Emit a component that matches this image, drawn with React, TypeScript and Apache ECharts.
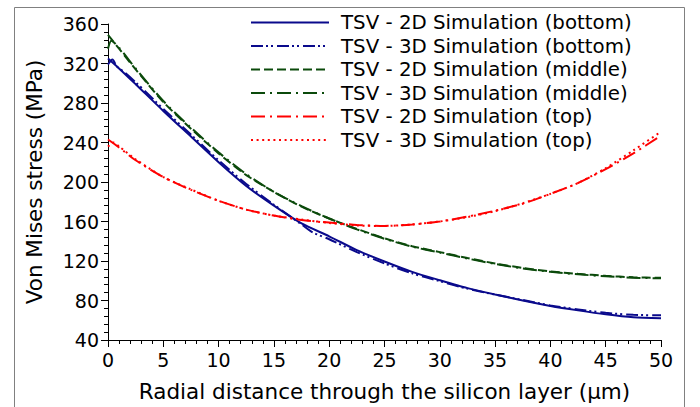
import React, { useEffect, useRef } from "react";
import * as echarts from "echarts";

const seriesNames = [
  "TSV - 2D Simulation (bottom)",
  "TSV - 3D Simulation (bottom)",
  "TSV - 2D Simulation (middle)",
  "TSV - 3D Simulation (middle)",
  "TSV - 2D Simulation (top)",
  "TSV - 3D Simulation (top)",
];

const xCommon = [0, 1, 2.5, 5, 7.5, 10, 12.5, 15, 17.5, 20, 22.5, 25, 27.5, 30, 32.5, 35, 37.5, 40, 42.5, 45, 47.5, 50];

const bottom2dY = [325, 315, 299, 272, 246, 220, 196, 176, 158, 145, 131, 119.5, 109, 100.5, 92.5, 86, 80, 74.5, 70, 66, 63, 62];

const bottom3dX = [0, 0.4, 0.8, 1.5, 2.5, 5, 7.5, 10, 12.5, 15, 17.5, 18.5, 20, 22.5, 25, 27.5, 30, 32.5, 35, 37.5, 40, 42.5, 45, 47.5, 50];
const bottom3dY = [319, 324, 317, 311, 301, 274, 248, 222, 198, 177, 157, 149, 142, 129, 117.5, 107.5, 99.5, 92, 86, 80.5, 75, 71, 67.5, 65.5, 65];

const middle2dY = [349, 335, 314, 281, 254, 229, 207, 190, 175, 163, 152.5, 143, 135, 129, 123, 117.5, 113, 109.5, 107, 105, 103.5, 103];

const middle3dX = [0, 0.3, 1, 2.5, 5, 7.5, 10, 12.5, 15, 17.5, 20, 22.5, 25, 27.5, 30, 32.5, 35, 37.5, 40, 42.5, 45, 47.5, 50];
const middle3dY = [335, 343, 336, 315, 282, 255, 230, 208, 190, 175.5, 163, 152, 142.5, 134.5, 128.5, 122.5, 117, 112.5, 109, 106.5, 104.5, 103, 102.5];

const top2dY = [243, 235, 222, 205, 192, 181, 172, 166, 161.5, 159, 156.5, 155.5, 157, 160, 165, 171, 178, 188, 199, 213, 229, 247];

const top3dX = [0, 0.5, 1, 2.5, 5, 7.5, 10, 12.5, 15, 17.5, 20, 22.5, 25, 27.5, 30, 32.5, 35, 37.5, 40, 42.5, 45, 47.5, 50];
const top3dY = [236, 240, 236, 223, 205, 192.5, 181, 172, 166, 162, 158.5, 156, 155.5, 157, 160, 164.5, 170.5, 178.5, 188, 199, 214, 232, 251];

const xTicks = { min: 0, max: 50, interval: 5 };
const yTicks = { min: 40, max: 360, interval: 40 };

const zip = (xs: number[], ys: number[]) => xs.map((x, i) => [x, ys[i]]);

const FONT = "DejaVu Sans";
const BLUE = "#0a0a8c";
const GREEN = "#0b4a0b";
const RED = "#ff0000";

export default function App() {
  const ref = useRef<HTMLDivElement>(null);
  useEffect(() => {
    if (!ref.current) return;
    const chart = echarts.init(ref.current, null, { renderer: "svg" });
    const mk = (name: string, data: number[][], color: string, type: any) => ({
      name,
      type: "line",
      data,
      showSymbol: false,
      symbol: "none",
      smooth: 0.25,
      lineStyle: { color, width: 2, type },
      itemStyle: { color },
    });
    chart.setOption({
      animation: false,
      textStyle: { fontFamily: FONT },
      graphic: [
        {
          type: "rect",
          shape: { x: 14.5, y: 7.5, width: 670, height: 430 },
          style: { fill: "none", stroke: "#808080", lineWidth: 1 },
          silent: true,
        },
      ],
      grid: { left: 108, right: 39, top: 24, bottom: 66 },
      legend: {
        orient: "vertical",
        left: 245,
        top: 7.5,
        itemWidth: 78,
        itemHeight: 14,
        itemGap: 3.5,
        itemStyle: { opacity: 0 },
        textStyle: { fontFamily: FONT, fontSize: 19.8, color: "#000", padding: [0, 0, 0, 7] },
        data: seriesNames,
      },
      xAxis: {
        type: "value",
        min: xTicks.min,
        max: xTicks.max,
        interval: xTicks.interval,
        name: "Radial distance through the silicon layer (μm)",
        nameLocation: "middle",
        nameGap: 40,
        nameTextStyle: { fontFamily: FONT, fontSize: 21.5, color: "#000" },
        axisLine: { lineStyle: { color: "#000", width: 1 } },
        axisTick: { length: 7, lineStyle: { color: "#000" } },
        minorTick: { show: true, splitNumber: 5, length: 4, lineStyle: { color: "#000" } },
        splitLine: { show: false },
        axisLabel: { fontFamily: FONT, fontSize: 19, color: "#000", margin: 10 },
      },
      yAxis: {
        type: "value",
        min: yTicks.min,
        max: yTicks.max,
        interval: yTicks.interval,
        name: "Von Mises stress (MPa)",
        nameLocation: "middle",
        nameGap: 63,
        nameTextStyle: { fontFamily: FONT, fontSize: 21.5, color: "#000" },
        axisLine: { show: true, lineStyle: { color: "#000", width: 1 } },
        axisTick: { show: true, length: 7, lineStyle: { color: "#000" } },
        minorTick: { show: true, splitNumber: 5, length: 4, lineStyle: { color: "#000" } },
        splitLine: { show: false },
        axisLabel: { fontFamily: FONT, fontSize: 19, color: "#000", margin: 9 },
      },
      series: [
        mk(seriesNames[0], zip(xCommon, bottom2dY), BLUE, "solid"),
        mk(seriesNames[1], zip(bottom3dX, bottom3dY), BLUE, [12, 3, 2, 3, 2, 4]),
        mk(seriesNames[2], zip(xCommon, middle2dY), GREEN, [9, 4]),
        mk(seriesNames[3], zip(middle3dX, middle3dY), GREEN, [14, 5, 2, 5]),
        mk(seriesNames[4], zip(xCommon, top2dY), RED, [14, 5, 2, 5]),
        mk(seriesNames[5], zip(top3dX, top3dY), RED, [2, 3.6]),
      ],
    });
    return () => chart.dispose();
  }, []);
  return <div ref={ref} style={{ width: 700, height: 407, position: "absolute", left: 0, top: 0 }} />;
}
